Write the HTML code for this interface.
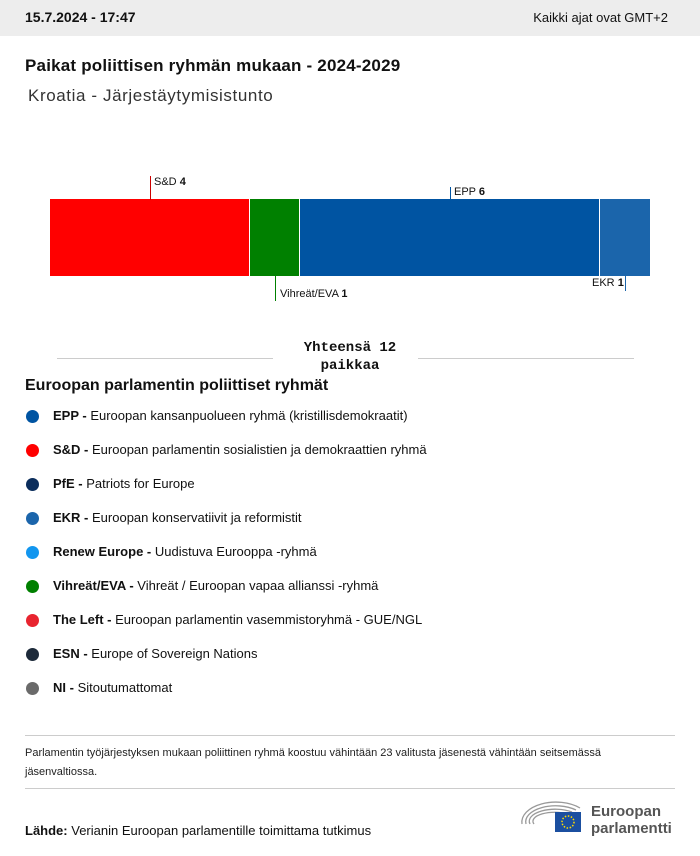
<!DOCTYPE html>
<html><head><meta charset="utf-8"><style>
body{margin:0;width:700px;height:856px;background:#fff;font-family:"Liberation Sans",sans-serif;color:#111;position:relative;overflow:hidden}
.a{position:absolute;white-space:nowrap}
.hdr{position:absolute;left:0;top:0;width:700px;height:36px;background:#ededed}
.seg{position:absolute;top:199px;height:77px}
.dot{position:absolute;left:26px;width:13px;height:13px;border-radius:50%}
.lg{position:absolute;left:53px;font-size:13px;white-space:nowrap}
.hr{position:absolute;height:1px;background:#ccc}
</style></head><body>
<div class="hdr"></div>
<div class="a" style="left:25px;top:9px;font-size:14px;font-weight:bold">15.7.2024 - 17:47</div>
<div class="a" style="right:32px;top:10px;font-size:13px">Kaikki ajat ovat GMT+2</div>
<div class="a" style="left:25px;top:56px;font-size:17px;font-weight:bold;letter-spacing:0.2px">Paikat poliittisen ryhmän mukaan - 2024-2029</div>
<div class="a" style="left:28px;top:86px;font-size:17px;color:#333;letter-spacing:0.6px">Kroatia - Järjestäytymisistunto</div>

<div class="seg" style="left:50px;width:199px;background:#ff0000"></div>
<div class="seg" style="left:250px;width:49px;background:#008000"></div>
<div class="seg" style="left:300px;width:299px;background:#0054a2"></div>
<div class="seg" style="left:600px;width:50px;background:#1b65ab"></div>
<div class="a" style="left:150px;top:176px;width:1px;height:24px;background:#c00"></div>
<div class="a" style="left:154px;top:176px;font-size:11px">S&amp;D <b>4</b></div>
<div class="a" style="left:450px;top:187px;width:1px;height:13px;background:#0054a2"></div>
<div class="a" style="left:454px;top:186px;font-size:11px">EPP <b>6</b></div>
<div class="a" style="left:275px;top:276px;width:1px;height:25px;background:#008000"></div>
<div class="a" style="left:280px;top:288px;font-size:11px">Vihreät/EVA <b>1</b></div>
<div class="a" style="left:625px;top:276px;width:1px;height:15px;background:#1b65ab"></div>
<div class="a" style="left:592px;top:277px;font-size:11px">EKR <b>1</b></div>

<div class="hr" style="left:57px;top:358px;width:216px"></div>
<div class="hr" style="left:418px;top:358px;width:216px"></div>
<div class="a" style="left:278px;top:339px;width:144px;text-align:center;font-family:'Liberation Mono',monospace;font-size:14px;font-weight:bold;line-height:18px;white-space:normal">Yhteensä 12 paikkaa</div>

<div class="a" style="left:25px;top:377px;font-size:16px;font-weight:bold">Euroopan parlamentin poliittiset ryhmät</div>

<div class="dot" style="top:410px;background:#0054a2"></div><div class="lg" style="top:408px"><b>EPP -</b> Euroopan kansanpuolueen ryhmä (kristillisdemokraatit)</div>
<div class="dot" style="top:444px;background:#ff0000"></div><div class="lg" style="top:442px"><b>S&amp;D -</b> Euroopan parlamentin sosialistien ja demokraattien ryhmä</div>
<div class="dot" style="top:478px;background:#0b2d5c"></div><div class="lg" style="top:476px"><b>PfE -</b> Patriots for Europe</div>
<div class="dot" style="top:512px;background:#1b65ab"></div><div class="lg" style="top:510px"><b>EKR -</b> Euroopan konservatiivit ja reformistit</div>
<div class="dot" style="top:546px;background:#1296ef"></div><div class="lg" style="top:544px"><b>Renew Europe -</b> Uudistuva Eurooppa -ryhmä</div>
<div class="dot" style="top:580px;background:#008000"></div><div class="lg" style="top:578px"><b>Vihreät/EVA -</b> Vihreät / Euroopan vapaa allianssi -ryhmä</div>
<div class="dot" style="top:614px;background:#e8242f"></div><div class="lg" style="top:612px"><b>The Left -</b> Euroopan parlamentin vasemmistoryhmä - GUE/NGL</div>
<div class="dot" style="top:648px;background:#1d2a3a"></div><div class="lg" style="top:646px"><b>ESN -</b> Europe of Sovereign Nations</div>
<div class="dot" style="top:682px;background:#6a6a6a"></div><div class="lg" style="top:680px"><b>NI -</b> Sitoutumattomat</div>

<div class="hr" style="left:25px;top:735px;width:650px"></div>
<div class="a" style="left:25px;top:744px;width:650px;font-size:11px;line-height:19px;white-space:normal;color:#222">Parlamentin työjärjestyksen mukaan poliittinen ryhmä koostuu vähintään 23 valitusta jäsenestä vähintään seitsemässä jäsenvaltiossa.</div>
<div class="hr" style="left:25px;top:788px;width:650px"></div>
<div class="a" style="left:25px;top:823px;font-size:13px"><b>Lähde:</b> Verianin Euroopan parlamentille toimittama tutkimus</div>

<svg class="a" style="left:518px;top:798px" width="70" height="38">
<g fill="none" stroke="#999" stroke-width="1.3">
<path d="M4 26 A34 20 0 0 1 62 10"/><path d="M8 26 A30 16 0 0 1 58 12"/><path d="M12 26 A26 12 0 0 1 54 14"/><path d="M16 26 A22 9 0 0 1 50 16"/>
</g>
<rect x="37" y="14" width="26" height="20" fill="#1b4fa0"/>
<circle cx="50" cy="24" r="6" fill="none" stroke="#ffdd00" stroke-width="1.5" stroke-dasharray="1.5 1.6"/>
</svg>
<div class="a" style="left:591px;top:803px;font-size:15px;font-weight:bold;color:#555;line-height:17px">Euroopan<br>parlamentti</div>
</body></html>
